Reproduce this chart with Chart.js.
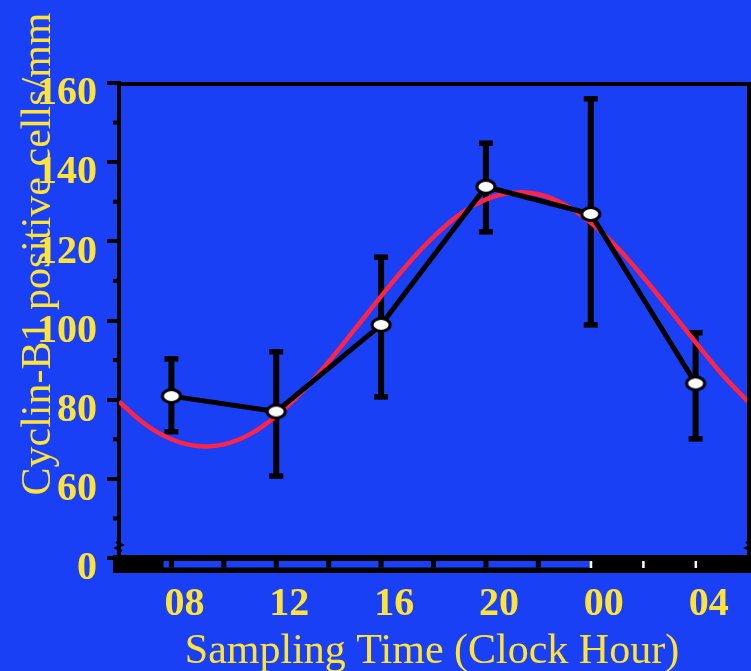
<!DOCTYPE html>
<html>
<head>
<meta charset="utf-8">
<script src="https://cdn.jsdelivr.net/npm/chart.js@4.4.0/dist/chart.umd.min.js"></script>
<style>
  html, body { margin: 0; padding: 0; background: #1a40f5; }
  canvas { display: block; }
</style>
</head>
<body>
<canvas id="myChart" width="751" height="671"></canvas>
<script>
// data
var sampleHours = [7.5, 11.5, 15.5, 19.5, 23.5, 27.5];
var meanCells = [80.9, 77.0, 98.9, 133.8, 126.9, 84.1];
var errHigh = [90.3, 92.1, 116.0, 144.8, 156.0, 96.9];
var errLow = [71.9, 60.7, 80.7, 122.4, 98.9, 70.1];

// fitted cosine curve (red), read at every hour
var fitHours = [5.5, 6.5, 7.5, 8.5, 9.5, 10.5, 11.5, 12.5, 13.5, 14.5, 15.5, 16.5, 17.5,
                18.5, 19.5, 20.5, 21.5, 22.5, 23.5, 24.5, 25.5, 26.5, 27.5, 28.5, 29.5];
var fitCells = [79.5, 73.8, 70.0, 68.3, 68.7, 71.3, 75.9, 82.1, 89.6, 97.8, 106.1, 114.1, 121.1,
                126.8, 130.6, 132.3, 131.9, 129.3, 124.7, 118.5, 111.0, 102.8, 94.5, 86.5, 79.5];

var hourTicks = [8, 12, 16, 20, 24, 28];
var hourLabels = ['08', '12', '16', '20', '00', '04'];
var yTickValues = [40, 60, 80, 100, 120, 140, 160];
var yTickLabels = ['0', '60', '80', '100', '120', '140', '160'];

var xTitle = 'Sampling Time (Clock Hour)';
var yTitle = 'Cyclin-B1 positive cells/mm';

var BLUE = '#1a40f5';
var YELLOW = '#ffe437';
var RED = '#ff2445';

// white ellipse marker
var marker = document.createElement('canvas');
marker.width = 24;
marker.height = 18;
var mctx = marker.getContext('2d');
mctx.beginPath();
mctx.ellipse(12, 9, 9, 6.4, 0, 0, Math.PI * 2);
mctx.fillStyle = '#fff';
mctx.fill();
mctx.lineWidth = 3;
mctx.strokeStyle = '#000';
mctx.stroke();

var frame = {
    id: 'frame',
    afterDraw: function (chart) {
        var ctx = chart.ctx;
        var a = chart.chartArea;
        var x = chart.scales.x;
        var y = chart.scales.y;
        ctx.save();
        ctx.fillStyle = '#000';
        // top and right border
        ctx.fillRect(a.left - 2, a.top - 1, chart.width, 4);
        ctx.fillRect(a.right - 1, a.top - 1, 4, a.bottom - a.top);
        // minor ticks
        y.ticks.forEach(function (t) {
            if (t.value % 20 !== 0) {
                var p = y.getPixelForValue(t.value);
                ctx.fillRect(a.left - 6, p - 2, 6, 4);
            }
        });
        // thick bottom band
        ctx.fillRect(a.left - 6, a.bottom - 3, chart.width, 18);
        ctx.fillStyle = BLUE;
        var x0 = x.getPixelForValue(7.2);
        var x1 = x.getPixelForValue(23.5);
        ctx.fillRect(x0, a.bottom + 3, x1 - x0, 6.5);
        ctx.fillStyle = '#000';
        for (var h = 7.5; h < 23.5; h += 2) {
            ctx.fillRect(x.getPixelForValue(h) - 2.5, a.bottom + 3, 5, 6.5);
        }
        ctx.fillStyle = '#fff';
        [23.5, 25.5, 27.5].forEach(function (h) {
            ctx.fillRect(x.getPixelForValue(h) - 1, a.bottom + 3, 2.5, 7);
        });
        // axis break marks
        ctx.strokeStyle = '#000';
        ctx.lineWidth = 2.5;
        [a.left, a.right + 1].forEach(function (bx) {
            ctx.beginPath();
            ctx.moveTo(bx - 3, a.bottom - 16);
            ctx.lineTo(bx + 3, a.bottom - 13);
            ctx.lineTo(bx - 3, a.bottom - 10);
            ctx.lineTo(bx + 3, a.bottom - 7);
            ctx.stroke();
        });
        // axis titles
        ctx.fillStyle = YELLOW;
        ctx.font = '42px "Liberation Serif"';
        ctx.textAlign = 'center';
        ctx.textBaseline = 'alphabetic';
        ctx.fillText(xTitle, 432, 663);
        ctx.translate(50, 254);
        ctx.rotate(-Math.PI / 2);
        ctx.fillText(yTitle, 0, 0);
        ctx.restore();
    }
};

var tickFont = { family: 'Liberation Serif', size: 40, weight: 'bold' };

var datasets = [{
    label: 'mean',
    data: sampleHours.map(function (h, i) { return { x: h, y: meanCells[i] }; }),
    borderColor: '#000',
    borderWidth: 5,
    pointStyle: marker,
    tension: 0
}, {
    label: 'fit',
    data: fitHours.map(function (h, i) { return { x: h, y: fitCells[i] }; }),
    borderColor: RED,
    borderWidth: 4.5,
    pointRadius: 0,
    tension: 0.4
}];

sampleHours.forEach(function (h, i) {
    datasets.push({
        label: 'err' + i,
        data: [{ x: h, y: errLow[i] }, { x: h, y: errHigh[i] }],
        borderColor: '#000',
        borderWidth: 6,
        pointStyle: 'line',
        pointRadius: 7,
        pointBorderWidth: 5.5,
        pointBorderColor: '#000',
        clip: false
    });
});

var ctx = document.getElementById('myChart').getContext('2d');
var myChart = new Chart(ctx, {
    type: 'line',
    data: { datasets: datasets },
    options: {
        responsive: false,
        animation: false,
        devicePixelRatio: 1,
        layout: { autoPadding: false, padding: { top: 83, right: 3, left: 0, bottom: 0 } },
        plugins: { legend: { display: false }, tooltip: { enabled: false } },
        scales: {
            x: {
                type: 'linear',
                min: 5.5,
                max: 29.5,
                afterBuildTicks: function (scale) {
                    scale.ticks = hourTicks.map(function (v) { return { value: v }; });
                },
                afterFit: function (scale) {
                    scale.height = 113;
                    scale.paddingLeft = 0;
                    scale.paddingRight = 0;
                },
                grid: { display: false },
                border: { display: false },
                ticks: {
                    autoSkip: false,
                    maxRotation: 0,
                    color: YELLOW,
                    font: tickFont,
                    padding: 15,
                    callback: function (value) { return hourLabels[hourTicks.indexOf(value)]; }
                }
            },
            y: {
                min: 40,
                max: 160,
                afterFit: function (scale) {
                    scale.width = 119;
                    scale.paddingTop = 0;
                    scale.paddingBottom = 0;
                },
                grid: {
                    drawOnChartArea: false,
                    drawTicks: true,
                    tickLength: 12,
                    lineWidth: 4,
                    color: function (c) {
                        return c.tick && c.tick.value % 20 === 0 ? '#000' : 'rgba(0,0,0,0)';
                    }
                },
                border: { display: true, color: '#000', width: 4 },
                ticks: {
                    stepSize: 10,
                    autoSkip: false,
                    color: YELLOW,
                    font: tickFont,
                    padding: 10,
                    labelOffset: 11,
                    callback: function (value) {
                        var i = yTickValues.indexOf(value);
                        return i < 0 ? '' : yTickLabels[i];
                    }
                }
            }
        }
    },
    plugins: [frame]
});
</script>
</body>
</html>
